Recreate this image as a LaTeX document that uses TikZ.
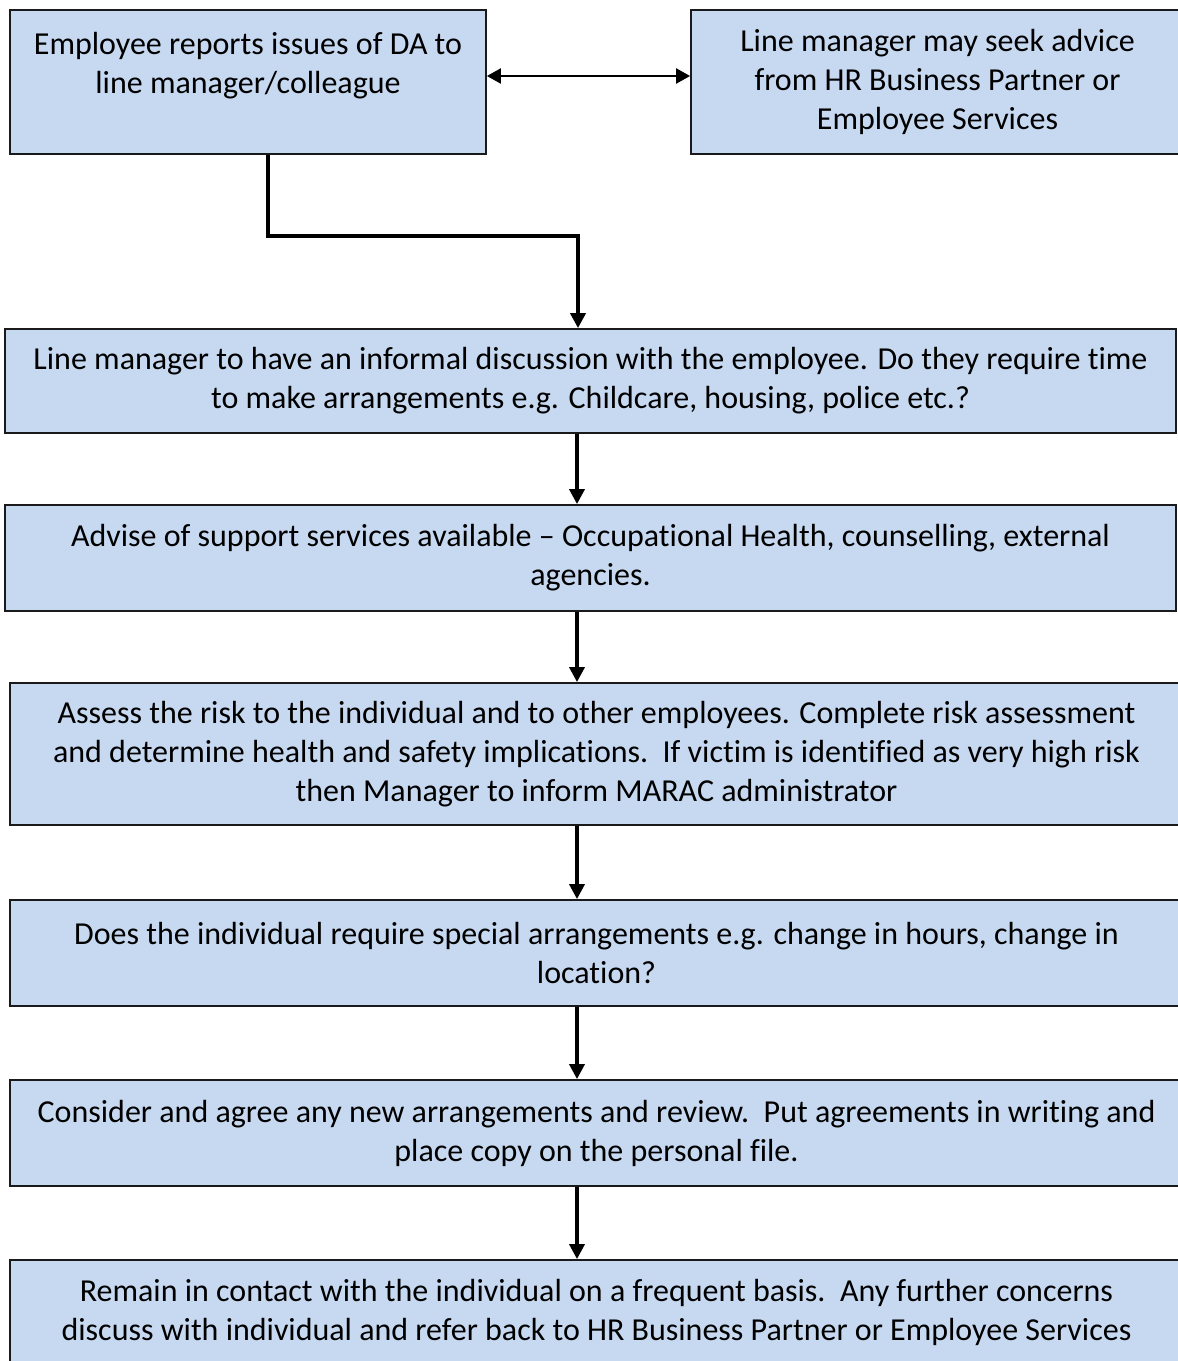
\documentclass[tikz,border=0pt]{standalone}
\usepackage{fontspec}
\setmainfont[Ligatures=NoCommon]{Carlito}
\usetikzlibrary{arrows.meta}
\definecolor{boxblue}{HTML}{C6D9F1}
\definecolor{edge}{HTML}{1A1A1A}
\begin{document}
\begin{tikzpicture}[x=1pt,y=-1pt,
  box/.style={draw=edge, line width=1.8pt, fill=boxblue, align=center, inner sep=0pt,
    font=\fontsize{32}{39}\selectfont},
  flow/.style={draw=black, line width=3.5pt, -{Triangle[length=15pt,width=15pt]}},
  elbowflow/.style={draw=black, line width=4.5pt, line join=miter, -{Triangle[length=15pt,width=15pt]}},
  twoway/.style={draw=black, line width=2.2pt, {Triangle[length=14pt,width=15pt]}-{Triangle[length=14pt,width=15pt]}}]
\useasboundingbox (0,0) rectangle (1178,1361);
\clip (0,0) rectangle (1178,1361);
\fill[white] (0,0) rectangle (1178,1361);

\node[box, minimum width=476pt, minimum height=144pt] (b1) at (248,82)
  {Employee reports issues of DA to\\line manager/colleague\\~};
\node[box, minimum width=493pt, minimum height=144pt] (b2) at (937.5,82)
  {Line manager may seek advice\\from HR Business Partner or\\Employee Services};
\node[box, minimum width=1171pt, minimum height=104pt] (b3) at (590.5,381)
  {Line manager to have an informal discussion with the employee. Do they require time\\to make arrangements e.g. Childcare, housing, police etc.?};
\node[box, minimum width=1171pt, minimum height=106pt] (b4) at (590.5,558)
  {Advise of support services available -- Occupational Health, counselling, external\\agencies.};
\node[box, minimum width=1173pt, minimum height=142pt] (b5) at (596.5,754)
  {Assess the risk to the individual and to other employees. Complete risk assessment\\and determine health and safety implications.\ \ If victim is identified as very high risk\\then Manager to inform MARAC administrator};
\node[box, minimum width=1173pt, minimum height=106pt] (b6) at (596.5,953)
  {Does the individual require special arrangements e.g. change in hours, change in\\location?};
\node[box, minimum width=1173pt, minimum height=106pt] (b7) at (596.5,1133)
  {Consider and agree any new arrangements and review.\ \ Put agreements in writing and\\place copy on the personal file.};
\node[box, minimum width=1173pt, minimum height=104pt] (b8) at (596.5,1312)
  {Remain in contact with the individual on a frequent basis.\ \ Any further concerns\\discuss with individual and refer back to HR Business Partner or Employee Services};

\coordinate (ax) at (577,0);
\coordinate (dy) at (0,76);
\coordinate (elbow) at (578,236);

\draw[twoway] (b1.east |- dy) -- (b2.west |- dy);
\draw[elbowflow] ([xshift=20pt]b1.south) |- (elbow) -- (elbow |- b3.north);
\draw[flow] (b3.south -| ax) -- (b4.north -| ax);
\draw[flow] (b4.south -| ax) -- (b5.north -| ax);
\draw[flow] (b5.south -| ax) -- (b6.north -| ax);
\draw[flow] (b6.south -| ax) -- (b7.north -| ax);
\draw[flow] (b7.south -| ax) -- (b8.north -| ax);
\end{tikzpicture}
\end{document}
